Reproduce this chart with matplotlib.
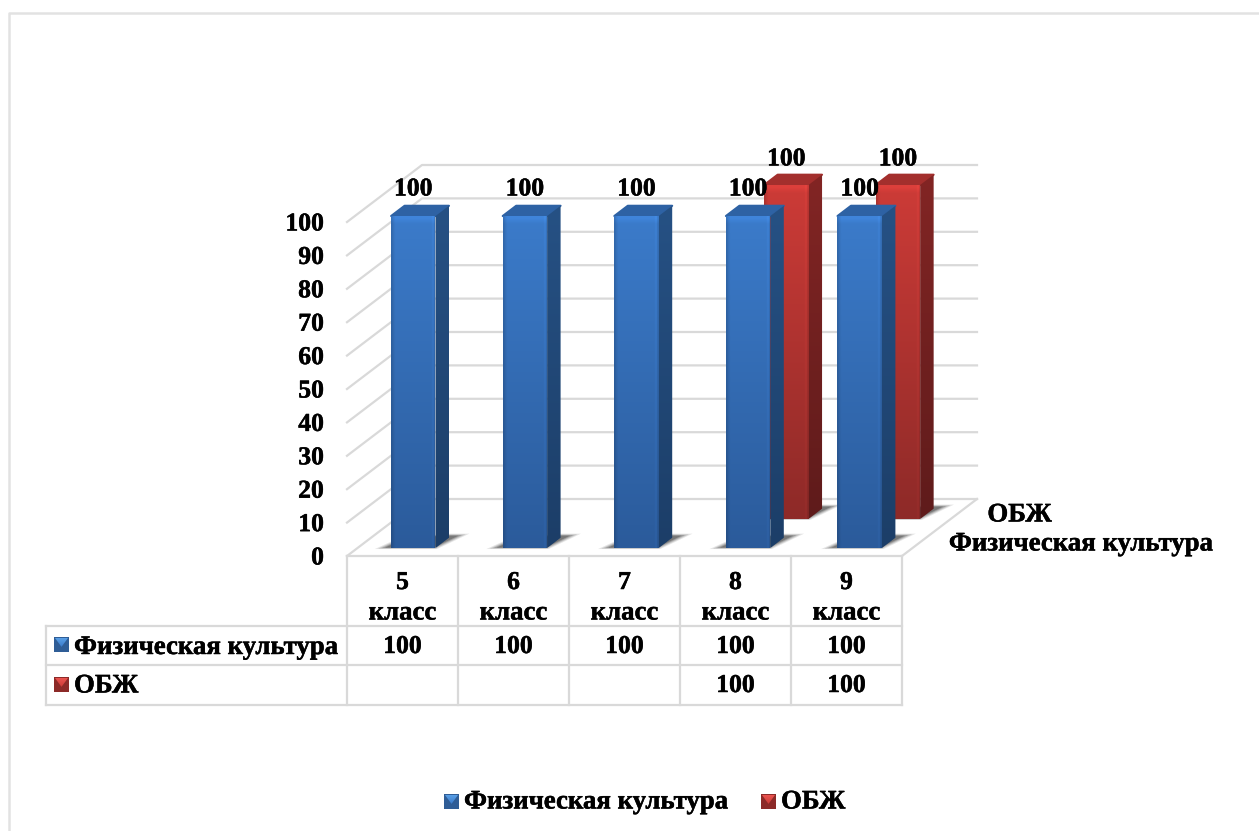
"""3D style clustered columns with a data table, drawn on a pixel sized axes"""

import numpy as np
from matplotlib import patheffects, pyplot as plt
from matplotlib.colors import to_rgb
from matplotlib.patches import Polygon

grades = ["5", "6", "7", "8", "9"]
grade_word = "класс"
pe_name = "Физическая культура"
obzh_name = "ОБЖ"
pe_values = [100, 100, 100, 100, 100]
obzh_values = [None, None, None, 100, 100]
y_ticks = [0, 10, 20, 30, 40, 50, 60, 70, 80, 90, 100]

W, H = 1259, 831
GRID = "#d9d9d9"
BLUE = dict(
    front=("#3b7bca", "#2b5b9b"),
    side=("#265184", "#1c3e68"),
    top="#2e62a4",
    key=("#5a9fe6", "#2f5d96"),
)
RED = dict(
    front=("#cc3b37", "#8e2a28"),
    side=("#822524", "#5f1b1b"),
    top="#a32f2d",
    key=("#ea5450", "#8c2a28"),
)

# chart floor: front left corner, size and the shift to the back wall
X0, Y0 = 347, 556
CELL = 111.0
PITCH = 111.6 / CELL  # columns sit a little wider apart than the table cells
DX, DY = 75, -57
UNIT = 3.34
FONT = dict(
    family="Liberation Serif",
    weight="bold",
    color="black",
    path_effects=[patheffects.withStroke(linewidth=0.35, foreground="black")],
)


def project(cat, value, depth, unit=UNIT):
    """cat in category units, value in percent, depth from 0 (front) to 1 (back)"""
    return X0 + cat * CELL + DX * depth, Y0 - value * unit + DY * depth


def label(ax, x, y, text, ha="center", size=19.3, zorder=7):
    ax.text(x, y + 2, text, ha=ha, va="center", fontsize=size, zorder=zorder, **FONT)


def gradient_poly(ax, pts, colors, zorder, bevel=False):
    """fill a polygon with a top to bottom gradient, optional edge bevel"""
    pts = np.array(pts)
    top, bottom = np.array(to_rgb(colors[0])), np.array(to_rgb(colors[1]))
    t = np.linspace(0, 1, 64)[:, None, None]
    img = np.repeat(top[None, None, :] * (1 - t) + bottom[None, None, :] * t, 24, axis=1)
    if bevel:
        img[:, 0] *= 0.86
        img[:, 1] *= 0.95
        img[:, -1] *= 0.9
        img[:, -2] *= 1.06
        img[0] *= 1.08
    im = ax.imshow(
        np.clip(img, 0, 1),
        extent=(pts[:, 0].min(), pts[:, 0].max(), pts[:, 1].max(), pts[:, 1].min()),
        aspect="auto",
        interpolation="bilinear",
        zorder=zorder,
    )
    im.set_clip_path(Polygon(pts, transform=ax.transData))


def draw_shadow(ax, xl, xr, d0, d1, zorder):
    outline = np.array(
        [
            project(xl - 0.11, 0, d0 - 0.01),
            project(xl - 0.03, 0, d0 + 0.17),
            project(xr - 0.05, 0, d1 + 0.06),
            project(xr + 0.11, 0, d1 + 0.06),
            project(xr + 0.01, 0, d0 - 0.01),
        ]
    )
    center = np.array(project((xl + xr) / 2, 0, (d0 + d1) / 2))
    for scale, alpha in [(1.08, 0.12), (1.0, 0.18), (0.92, 0.26), (0.84, 0.34)]:
        pts = center + (outline - center) * scale
        ax.fill(pts[:, 0], pts[:, 1], color="#303030", alpha=alpha, lw=0, zorder=zorder)


def draw_column(ax, cat, value, d0, d1, colors, unit, zorder):
    half = 0.2
    cat = cat * PITCH
    xl, xr = cat - half, cat + half

    draw_shadow(ax, xl, xr, d0, d1, zorder)

    fl, ft = project(xl, value, d0, unit)
    fr, fb = project(xr, 0, d0, unit)
    bl, bt = project(xl, value, d1, unit)
    br, bb = project(xr, 0, d1, unit)

    ax.fill(
        [fl, fr, br, bl],
        [ft, ft, bt, bt],
        color=colors["top"],
        lw=1.5,
        joinstyle="round",
        zorder=zorder + 0.1,
    )
    gradient_poly(ax, [(fr, ft), (br, bt), (br, bb), (fr, fb)], colors["side"], zorder + 0.1)
    gradient_poly(ax, [(fl, ft), (fr, ft), (fr, fb), (fl, fb)], colors["front"], zorder + 0.2, bevel=True)
    return (fl + fr) / 2, ft


def legend_key(ax, x, y, colors, size=15):
    ax.fill(
        [x, x + size, x + size, x],
        [y, y, y + size, y + size],
        color=colors["key"][1],
        lw=0,
        zorder=5,
    )
    gradient_poly(
        ax,
        [(x + 1, y + 1), (x + size - 1, y + 1), (x + size / 2, y + size * 0.66)],
        (colors["key"][0], colors["front"][0]),
        5.1,
    )


def draw_walls(ax):
    for tick in y_ticks:
        xa, ya = project(0, tick, 0)
        xb, yb = project(0, tick, 1)
        xc, yc = project(len(grades), tick, 1)
        ax.plot([xa, xb, xc], [ya, yb, yc], color=GRID, lw=1.6, zorder=1)
        label(ax, 324, ya, str(tick), ha="right", size=18.5)
    xa, ya = project(len(grades), 0, 0)
    xb, yb = project(len(grades), 0, 1)
    ax.plot([xa, xb], [ya, yb], color=GRID, lw=1.6, zorder=1)


def draw_table(ax):
    x_left = 46
    rows = [625.5, 665, 704.5]
    top = project(0, 0, 0)[1]
    edges = [X0 + i * CELL for i in range(len(grades) + 1)]

    ax.plot([edges[0], edges[-1]], [top, top], color=GRID, lw=1.6, zorder=4)
    for y in rows:
        ax.plot([x_left, edges[-1]], [y, y], color=GRID, lw=1.6, zorder=4)
    for x in edges:
        ax.plot([x, x], [top, rows[-1]], color=GRID, lw=1.6, zorder=4)
    ax.plot([x_left, x_left], [rows[0], rows[-1]], color=GRID, lw=1.6, zorder=4)

    for i, grade in enumerate(grades):
        xc = X0 + (i + 0.5) * CELL
        label(ax, xc, 580.5, grade, size=18.5)
        label(ax, xc, 611, grade_word)
        for y, values in zip([644.5, 683.5], [pe_values, obzh_values]):
            if values[i] is not None:
                label(ax, xc, y, str(values[i]), size=18.5)

    legend_key(ax, 54, 637, BLUE)
    legend_key(ax, 54, 677, RED)
    label(ax, 74, 645.5, pe_name, ha="left")
    label(ax, 74, 684, obzh_name, ha="left")


def main():
    fig = plt.figure(figsize=(W / 100, H / 100), dpi=100)
    ax = fig.add_axes([0, 0, 1, 1])

    # outer chart frame, runs off the right and bottom of the picture
    ax.plot([9.5, 9.5, W + 5], [H + 5, 13, 13], color="#e2e2e2", lw=1.8, zorder=0)

    draw_walls(ax)

    for i, value in enumerate(obzh_values):
        if value is not None:
            x, y = draw_column(ax, i + 0.5, value, 0.65, 0.83, RED, UNIT, 2)
            label(ax, x, y - 28, str(value), size=18.5)
    for i, value in enumerate(pe_values):
        x, y = draw_column(ax, i + 0.5, value, 0.14, 0.32, BLUE, 3.32, 3)
        label(ax, x, y - 29, str(value), size=18.5)

    # series names on the depth axis
    label(ax, 1019.5, 513, obzh_name)
    label(ax, 1081, 542, pe_name)

    draw_table(ax)

    legend_key(ax, 444, 794, BLUE)
    label(ax, 464, 800, pe_name, ha="left")
    legend_key(ax, 761, 794, RED)
    label(ax, 781, 800, obzh_name, ha="left")

    ax.set_xlim(0, W)
    ax.set_ylim(H, 0)
    ax.axis("off")
    fig.savefig("out.png", dpi=100)


if __name__ == "__main__":
    main()
